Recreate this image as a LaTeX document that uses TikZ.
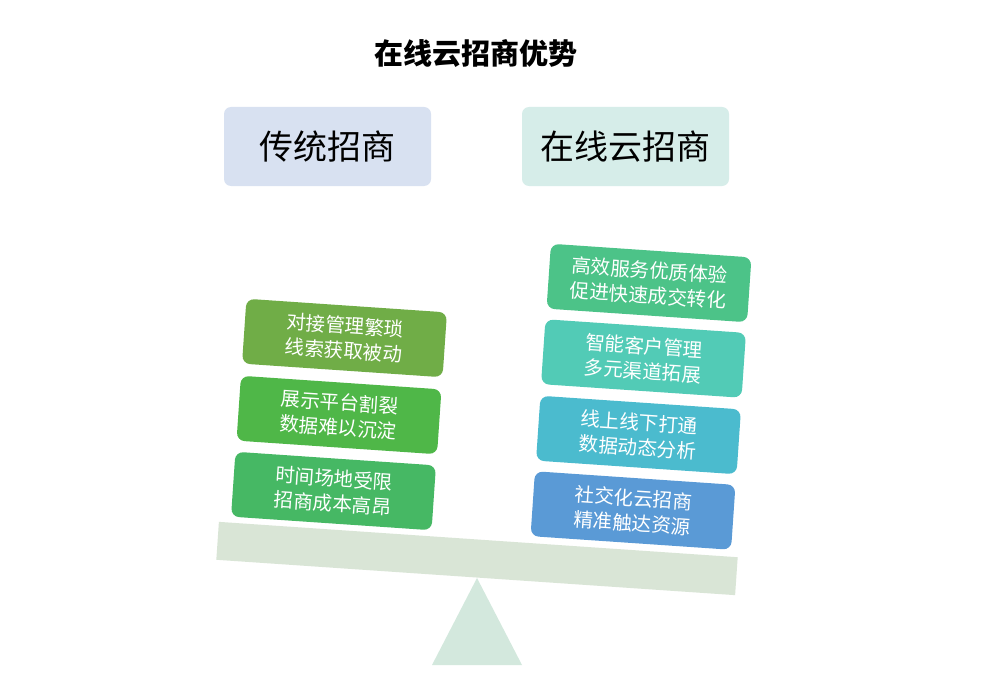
\documentclass[tikz,border=0pt]{standalone}
\usepackage{fontspec}
\setmainfont{Noto Sans CJK SC}
\definecolor{beamc}{HTML}{D9E5D6}
\definecolor{tric}{HTML}{D3E8DD}
\definecolor{hdrl}{HTML}{D8E1F1}
\definecolor{hdrr}{HTML}{D6EDE9}
\definecolor{lone}{HTML}{70AD47}
\definecolor{ltwo}{HTML}{4FB748}
\definecolor{lthree}{HTML}{46B864}
\definecolor{rone}{HTML}{4CC388}
\definecolor{rtwo}{HTML}{52CBB6}
\definecolor{rthree}{HTML}{4BBBCE}
\definecolor{rfour}{HTML}{5A9AD6}
\begin{document}
\begin{tikzpicture}[x=1pt,y=-1pt,
  header/.style={rectangle,rounded corners=7pt,minimum width=207pt,minimum height=79pt,
     font=\fontsize{34}{40}\selectfont,text=black,inner sep=0pt},
  card/.style={rectangle,rounded corners=8pt,minimum width=201pt,minimum height=65pt,
     text=white,align=center,font=\fontsize{19.5}{25}\selectfont,rotate=-3.9,inner sep=0pt}]
\useasboundingbox[fill=white] (0,0) rectangle (992,687);
\node[font=\fontsize{29}{34}\selectfont\bfseries] (title) at (476,54) {在线云招商优势};
\node[header,fill=hdrl] (trad) at (327.5,146.5) {传统招商};
\node[header,fill=hdrr] (online) at (625.5,146.5) {在线云招商};
% balance
\node[rectangle,fill=beamc,minimum width=520pt,minimum height=38pt,rotate=-3.9,inner sep=0pt] (beam) at (477,558.5) {};
\fill[tric] (477,578) -- (432,665) -- (522,665) -- cycle;
% left cards
\node[card,fill=lone] (l1) at (344.5,338) {对接管理繁琐\\线索获取被动};
\node[card,fill=ltwo] (l2) at (339,415) {展示平台割裂\\数据难以沉淀};
\node[card,fill=lthree] (l3) at (333.5,491) {时间场地受限\\招商成本高昂};
% right cards
\node[card,fill=rone] (r1) at (649,283) {高效服务优质体验\\促进快速成交转化};
\node[card,fill=rtwo] (r2) at (643.5,358.5) {智能客户管理\\多元渠道拓展};
\node[card,fill=rthree] (r3) at (638.5,435) {线上线下打通\\数据动态分析};
\node[card,fill=rfour] (r4) at (633,510.5) {社交化云招商\\精准触达资源};
\end{tikzpicture}
\end{document}
